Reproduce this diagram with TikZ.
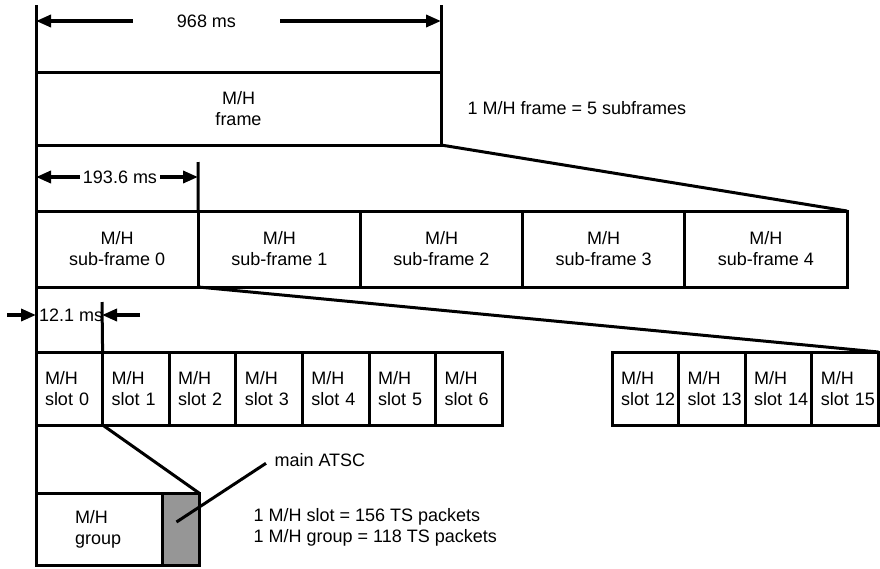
\documentclass[tikz,border=0pt]{standalone}
\usepackage{fontspec}
\setmainfont{Liberation Sans}
\usetikzlibrary{arrows.meta,positioning,calc}
\definecolor{MainGrey}{RGB}{150,150,150}

\begin{document}
\begin{tikzpicture}[
    x=1pt, y=-1pt,
    node distance=0pt,
    every node/.style={font=\fontsize{18}{21}\selectfont},
    tbox/.style={draw, line width=3pt, inner sep=0pt, outer sep=0pt, align=center},
    slotbox/.style={tbox, minimum width=66.6pt, minimum height=73pt, inner xsep=9pt, text width=48.6pt, align=left},
    sfbox/.style={tbox, minimum width=162.2pt, minimum height=76pt},
    bline/.style={line width=3pt},
    dimarr/.style={-{Triangle[length=15pt,width=12pt]}, line width=3.5pt}
  ]
    \useasboundingbox (0,0) rectangle (880,568);

    % frame
    \node[tbox, minimum width=405pt, minimum height=73pt, anchor=north west] (frame) at (36,72) {M/H\\frame};
    \node[anchor=west] (fnote) at (464,108) {1 M/H frame = 5 subframes};

    % sub-frames
    \node[sfbox, anchor=north west] (sf0) at (36,211) {M/H\\sub-frame 0};
    \foreach \i [count=\j from 0] in {1,...,4}
      \node[sfbox, right=of sf\j] (sf\i) {M/H\\sub-frame \i};

    % slots
    \node[slotbox, anchor=north west] (slot0) at (36,352) {M/H\\slot~0};
    \foreach \i [count=\j from 0] in {1,...,6}
      \node[slotbox, right=of slot\j] (slot\i) {M/H\\slot~\i};
    \node[slotbox, anchor=north west] (slot12) at (612,352) {M/H\\slot~12};
    \foreach \i [count=\j from 12] in {13,14,15}
      \node[slotbox, right=of slot\j] (slot\i) {M/H\\slot~\i};

    % group
    \node[tbox, minimum width=126pt, minimum height=72pt, anchor=north west, inner xsep=39pt, text width=48pt, align=left] (group) at (36,493) {M/H\\group};
    \node[tbox, fill=MainGrey, minimum width=37pt, minimum height=72pt, right=of group] (main) {};

    % dimension lines
    \coordinate (topL) at (36,5);
    \coordinate (topR) at (441,5);
    \coordinate (m1) at (198,162);
    \coordinate (m2) at (102,302);
    \draw[bline] (topL) -- (group.south west);
    \draw[bline] (topR) -- (frame.north east);
    \draw[bline] (m1) -- (sf0.north east);
    \draw[bline] (m2) -- (slot0.north east);

    \node[minimum width=147pt, inner sep=0pt] (d968) at (206.5,21) {968 ms};
    \draw[dimarr] (d968.west) -- (d968.west -| topL);
    \draw[dimarr] (d968.east) -- (d968.east -| topR);

    \node[inner xsep=3pt, inner ysep=0pt] (d1936) at (120,177) {193.6 ms};
    \draw[dimarr] (d1936.west) -- (d1936.west -| topL);
    \draw[dimarr] (d1936.east) -- (d1936.east -| m1);

    \node[anchor=west, inner sep=0pt] (d121) at (39,315) {12.1 ms};
    \coordinate (l121) at (7,315);
    \coordinate (r121) at (140,315);
    \draw[dimarr] (l121) -- (l121 -| topL);
    \draw[dimarr] (r121) -- (r121 -| m2);

    % zoom lines
    \draw[bline] (frame.south east) -- (sf4.north east);
    \draw[bline] (sf0.south east) -- (slot15.north east);
    \draw[bline] (slot0.south east) -- (main.north east);

    % notes
    \node[anchor=west] (atsc) at (271,460) {main ATSC};
    \draw[bline, shorten >=6pt] ($(main.center)+(-4,-7)$) -- (atsc.west);
    \node[anchor=west, align=left] (pnote) at (250,527) {1 M/H slot = 156 TS packets\\1 M/H group = 118 TS packets};
\end{tikzpicture}
\end{document}
